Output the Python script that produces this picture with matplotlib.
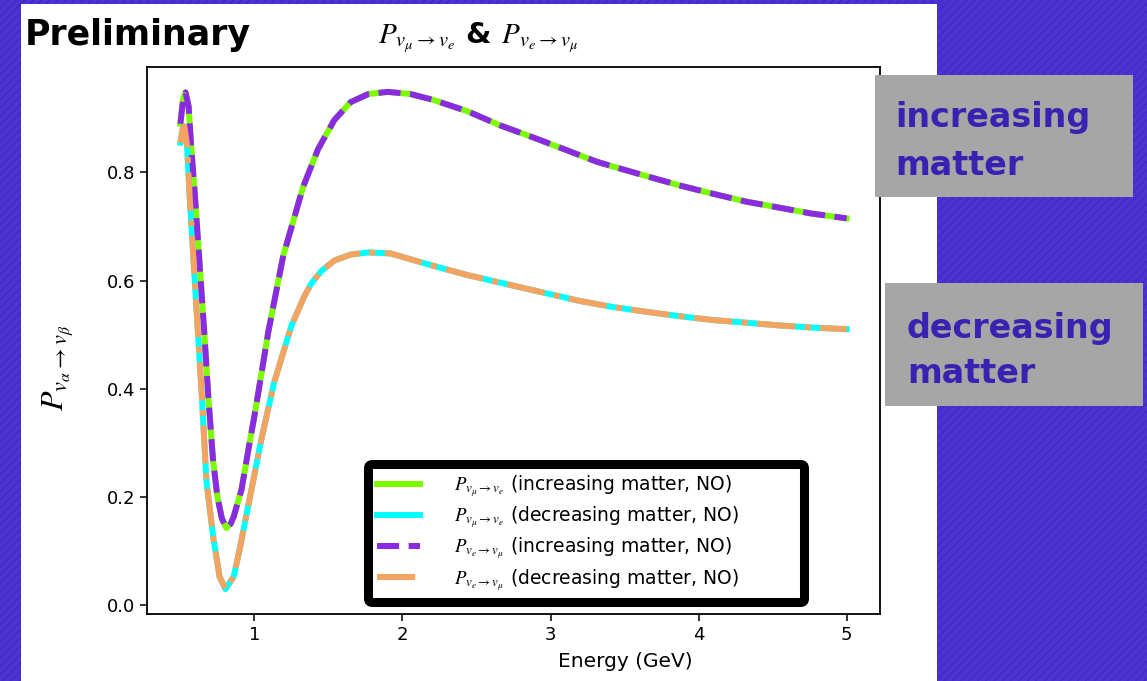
import matplotlib.pyplot as plt
from matplotlib.patches import Rectangle

plt.rcParams['mathtext.fontset'] = 'stix'
plt.rcParams['hatch.linewidth'] = 1.0

# oscillation probability vs. neutrino energy
energy_inc = [0.50, 0.52, 0.535, 0.556, 0.57, 0.60, 0.63, 0.66, 0.69, 0.72, 0.75,
              0.78, 0.81, 0.84, 0.86, 0.913, 0.96, 1.0, 1.094, 1.195, 1.33, 1.43,
              1.54, 1.65, 1.77, 1.90, 2.055, 2.21, 2.44, 2.66, 2.88, 3.11, 3.31,
              3.42, 3.65, 3.87, 4.09, 4.32, 4.54, 4.76, 5.00]
prob_inc = [0.890, 0.938, 0.948, 0.922, 0.860, 0.750, 0.630, 0.510, 0.380, 0.270, 0.200,
            0.160, 0.142, 0.150, 0.163, 0.213, 0.288, 0.349, 0.505, 0.646, 0.774, 0.843,
            0.897, 0.930, 0.945, 0.949, 0.945, 0.934, 0.913, 0.887, 0.865, 0.841, 0.820,
            0.811, 0.793, 0.776, 0.761, 0.746, 0.735, 0.724, 0.715]

energy_dec = [0.50, 0.515, 0.527, 0.545, 0.563, 0.597, 0.624, 0.644, 0.677, 0.724, 0.765,
              0.805, 0.86, 0.90, 0.98, 1.047, 1.134, 1.25, 1.336, 1.383, 1.45, 1.54,
              1.65, 1.77, 1.92, 2.21, 2.44, 2.66, 2.93, 3.20, 3.42, 3.65, 3.87, 4.09,
              4.32, 4.54, 4.76, 5.00]
prob_dec = [0.855, 0.880, 0.885, 0.850, 0.755, 0.600, 0.480, 0.390, 0.226, 0.121, 0.052,
            0.029, 0.052, 0.102, 0.213, 0.306, 0.412, 0.516, 0.570, 0.594, 0.617, 0.637,
            0.648, 0.652, 0.650, 0.627, 0.610, 0.596, 0.579, 0.562, 0.551, 0.542, 0.534,
            0.527, 0.522, 0.517, 0.513, 0.510]

# (label, energies, probabilities, colour, linestyle)
series = [
    (r"$P_{v_\mu\rightarrow v_e}$ (increasing matter, NO)", energy_inc, prob_inc, 'lawngreen', '-'),
    (r"$P_{v_\mu\rightarrow v_e}$ (decreasing matter, NO)", energy_dec, prob_dec, 'cyan', '-'),
    (r"$P_{v_e\rightarrow v_\mu}$ (increasing matter, NO)", energy_inc, prob_inc, 'blueviolet', '--'),
    (r"$P_{v_e\rightarrow v_\mu}$ (decreasing matter, NO)", energy_dec, prob_dec, 'sandybrown', '-.'),
]

fig = plt.figure(figsize=(11.47, 6.81), dpi=100)
fig.patch.set_facecolor('#4c31d3')

# slide background: hatched purple with a white panel for the plot
fig.add_artist(Rectangle((0, 0), 1, 1, transform=fig.transFigure, facecolor='#4c31d3',
                         edgecolor='#4428c4', hatch='////', lw=0, zorder=-3))
fig.add_artist(Rectangle((21 / 1147, 0), 916 / 1147, 677 / 681, transform=fig.transFigure,
                         facecolor='white', lw=0, zorder=-2))

ax = fig.add_axes([0.1282, 0.0984, 0.639, 0.8032])
for label, x, y, color, ls in series:
    ax.plot(x, y, color=color, linestyle=ls, lw=4.3, label=label)

ax.set_xticks([1, 2, 3, 4, 5])
ax.set_yticks([0.0, 0.2, 0.4, 0.6, 0.8])
ax.tick_params(labelsize=13, width=1.1, length=5)
for sp in ax.spines.values():
    sp.set_linewidth(1.3)

ax.set_xlabel("Energy (GeV)", fontsize=14.5)
ax.xaxis.set_label_coords(0.652, -0.07)
ax.set_ylabel(r"$P_{v_\alpha\rightarrow v_\beta}$", fontsize=23)
ax.yaxis.set_label_coords(-0.098, 0.45)
ax.set_title(r"$P_{v_\mu\rightarrow v_e}$ & $P_{v_e\rightarrow v_\mu}$",
             fontsize=21, fontweight='bold', x=0.4516, pad=17)

leg = ax.legend(loc='lower left', bbox_to_anchor=(0.3015, 0.0219, 0.5948, 0.25),
                mode='expand', borderaxespad=0, fontsize=13.5, handlelength=2.25,
                handletextpad=1.85, borderpad=0.5, labelspacing=0.3, fancybox=True,
                framealpha=1)
leg.get_frame().set_edgecolor('black')
leg.get_frame().set_linewidth(6.5)

fig.text(25 / 1147, 1 - 45 / 681, "Preliminary", fontsize=25, fontweight='bold',
         va='baseline', ha='left')

# side notes on grey boxes
box_color = '#a6a6a6'
note_color = '#3a21b2'
fig.add_artist(Rectangle((875 / 1147, 1 - 197 / 681), 258 / 1147, 122 / 681,
                         transform=fig.transFigure, facecolor=box_color, lw=0, zorder=5))
fig.add_artist(Rectangle((885 / 1147, 1 - 406 / 681), 258 / 1147, 123 / 681,
                         transform=fig.transFigure, facecolor=box_color, lw=0, zorder=5))
for xp, yp, txt in [(895, 127, "increasing"), (895, 175, "matter"),
                    (907, 338, "decreasing"), (907, 383, "matter")]:
    fig.text(xp / 1147, 1 - yp / 681, txt, fontsize=24, fontweight='bold',
             color=note_color, va='baseline', ha='left', zorder=6)

fig.savefig("out.png", dpi=100, facecolor=fig.get_facecolor())
